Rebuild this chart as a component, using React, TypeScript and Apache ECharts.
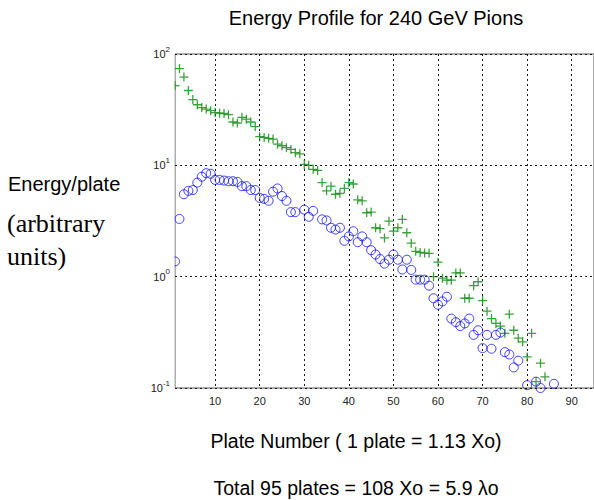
import React, { useEffect, useRef } from "react";
import * as echarts from "echarts";

// Plate number and deposited energy for the "+" series
const crossPlate = [
  1, 2, 3, 4, 5, 6, 7, 8, 9, 10, 11, 12, 13, 14, 15, 16, 17, 18, 19, 20,
  21, 22, 23, 24, 25, 26, 27, 28, 29, 30, 31, 32, 33, 34, 35, 36, 37, 38, 39, 40,
  41, 42, 43, 44, 45, 46, 47, 48, 49, 50, 51, 52, 53, 54, 55, 56, 57, 58, 59, 60,
  61, 62, 63, 64, 65, 66, 67, 68, 69, 70, 71, 72, 73, 74, 75, 76, 77, 78, 79, 80,
  81, 82, 83, 84,
];
const crossEnergy = [
  52, 74, 62, 47, 39, 35, 33, 32, 31, 29.8, 29.4, 29.2, 28.5, 24.5, 24, 27, 26, 24.5, 22.3, 18.1,
  17.8, 17.5, 17.2, 15.5, 15, 14.4, 13.9, 13, 12.7, 10.2, 10, 9.2, 9.0, 7.0, 5.9, 6.5, 5.5, 5.6, 6.2, 7.0,
  6.8, 4.9, 4.8, 3.75, 3.8, 2.75, 2.7, 2.23, 3.15, 2.56, 2.75, 3.27, 2.48, 2.0, 1.69, 1.65, 1.63, 1.62, 1.0, 1.35,
  0.97, 0.93, 0.93, 1.08, 1.08, 0.64, 0.64, 0.83, 0.9, 0.61, 0.49, 0.42, 0.38, 0.36, 0.31, 0.46, 0.33, 0.28, 0.26, 0.19,
  0.31, 0.114, 0.167, 0.126,
];

// Plate number and deposited energy for the "o" series
const circlePlate = [
  1, 2, 3, 4, 5, 6, 7, 8, 9, 10, 11, 12, 13, 14, 15, 16, 17, 18, 19, 20,
  21, 22, 23, 24, 25, 26, 27, 28, 30, 31, 32, 34, 35, 36, 37, 38, 39, 40,
  41, 42, 43, 44, 45, 46, 47, 48, 49, 50, 51, 52, 53, 54, 55, 56, 57, 58, 59, 60,
  61, 62, 63, 64, 65, 66, 67, 68, 69, 70, 71, 72, 73, 74, 75, 76, 77, 78, 80,
  82, 83, 86,
];
const circleEnergy = [
  1.37, 3.3, 5.5, 5.9, 6.0, 7.0, 7.9, 8.5, 8.4, 7.4, 7.4, 7.3, 7.2, 7.2, 7.1, 6.5, 6.5, 6.0, 6.0, 5.1,
  5.0, 4.8, 5.8, 6.2, 5.3, 4.8, 3.8, 3.8, 4.0, 3.45, 3.9, 3.27, 3.2, 2.75, 2.65, 2.75, 2.1, 2.3,
  2.56, 2.04, 2.3, 2.04, 1.73, 1.58, 1.44, 1.31, 1.42, 1.58, 1.42, 1.16, 1.42, 1.15, 0.94, 0.94, 0.94, 0.83, 0.64, 0.56,
  0.6, 0.66, 0.42, 0.39, 0.36, 0.38, 0.42, 0.3, 0.33, 0.228, 0.3, 0.225, 0.3, 0.315, 0.21, 0.2, 0.153, 0.176, 0.106,
  0.114, 0.1, 0.109,
];

// Plate numbers that carry a grid line and a label
const plateTicks = [10, 20, 30, 40, 50, 60, 70, 80, 90];

const SANS = '"Liberation Sans", Arial, Helvetica, sans-serif';
const SERIF = '"Liberation Serif", "Times New Roman", serif';

const textEl = (text: string, x: number, y: number, font: string, align: string) => ({
  type: "text",
  z: 60,
  x,
  y,
  style: {
    text,
    fill: "#000",
    font,
    align,
    verticalAlign: "middle",
    textAlign: align,
    textVerticalAlign: "middle",
  },
});

export default function App() {
  const ref = useRef<HTMLDivElement>(null);

  useEffect(() => {
    const chart = echarts.init(ref.current!, null, { renderer: "svg" });

    const pairs = (xs: number[], ys: number[]) => xs.map((x, i) => [x, ys[i]]);

    chart.setOption({
      animation: false,
      backgroundColor: "#ffffff",
      textStyle: { fontFamily: SANS },
      grid: {
        left: 175,
        top: 54,
        width: 421,
        height: 334,
        show: true,
        borderColor: "#5c5c5c",
        borderWidth: 1,
        backgroundColor: "transparent",
      },
      xAxis: {
        type: "value",
        min: 1,
        max: 95,
        axisLine: { show: false },
        axisTick: { show: false, customValues: plateTicks },
        axisLabel: {
          customValues: plateTicks,
          fontSize: 11,
          color: "#222",
          margin: 7,
          fontFamily: SANS,
        },
        splitLine: {
          show: true,
          lineStyle: { type: [2, 3], color: "#1a1a1a", width: 1 },
        },
      },
      yAxis: {
        type: "log",
        logBase: 10,
        min: 0.1,
        max: 100,
        interval: 1,
        z: 60,
        axisLine: { show: false },
        axisTick: { show: false },
        minorTick: { show: false },
        axisLabel: {
          margin: 5,
          color: "#222",
          fontFamily: SANS,
          formatter: (v: number) => `{b|10}{sup|${Math.round(Math.log10(v))}}`,
          rich: {
            b: { fontSize: 11, lineHeight: 18, verticalAlign: "middle", color: "#222", fontFamily: SANS },
            sup: { fontSize: 8, lineHeight: 9, verticalAlign: "top", color: "#222", fontFamily: SANS },
          },
        },
        splitLine: {
          show: true,
          lineStyle: { type: [2, 3], color: "#1a1a1a", width: 1 },
        },
      },
      series: [
        {
          type: "scatter",
          data: pairs(crossPlate, crossEnergy),
          symbol: "path://M5,0L5,10M0,5L10,5",
          symbolSize: 9,
          itemStyle: { color: "rgba(0,0,0,0)", borderColor: "#0b8a0b", borderWidth: 1.3 },
          z: 3,
        },
        {
          type: "scatter",
          data: pairs(circlePlate, circleEnergy),
          symbol: "circle",
          symbolSize: 9,
          itemStyle: { color: "rgba(0,0,0,0)", borderColor: "#1010ff", borderWidth: 1 },
          z: 4,
        },
      ],
      graphic: [
        {
          type: "rect",
          z: 50,
          shape: { x: 166, y: 54, width: 8.5, height: 334 },
          style: { fill: "#ffffff" },
        },
        textEl("Energy Profile for 240 GeV Pions", 376, 18, `20px ${SANS}`, "center"),
        textEl("Energy/plate", 8, 184, `20px ${SANS}`, "left"),
        textEl("(arbitrary", 7, 223, `26px ${SERIF}`, "left"),
        textEl("units)", 7, 256, `26px ${SERIF}`, "left"),
        textEl("Plate Number ( 1 plate = 1.13 Xo)", 356, 441, `19.5px ${SANS}`, "center"),
        textEl("Total 95 plates = 108 Xo = 5.9 λo", 356, 488, `19.5px ${SANS}`, "center"),
      ],
    });

    return () => chart.dispose();
  }, []);

  return (
    <div
      ref={ref}
      style={{ position: "absolute", left: 0, top: 0, width: 594, height: 500, background: "#fff" }}
    />
  );
}
